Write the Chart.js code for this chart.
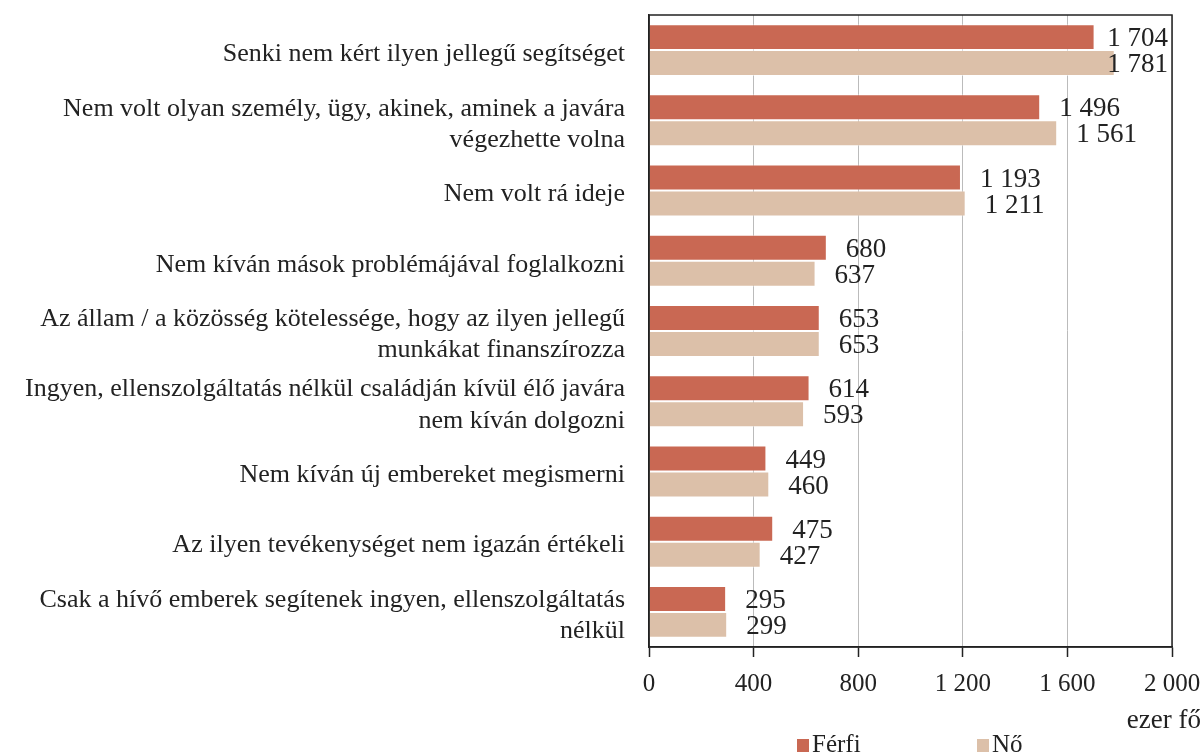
<!DOCTYPE html>
<html>
<head>
<meta charset="utf-8">
<script src="https://cdn.jsdelivr.net/npm/chart.js@4/dist/chart.umd.min.js"></script>
<style>
  html, body { margin: 0; padding: 0; background: #fff; }
  #wrap { width: 1204px; height: 755px; position: relative; }
</style>
</head>
<body>
<div id="wrap"><canvas id="chart"></canvas></div>
<script>
// Data
const categories = [
  'Senki nem kért ilyen jellegű segítséget',
  ['Nem volt olyan személy, ügy, akinek, aminek a javára', 'végezhette volna'],
  'Nem volt rá ideje',
  'Nem kíván mások problémájával foglalkozni',
  ['Az állam / a közösség kötelessége, hogy az ilyen jellegű', 'munkákat finanszírozza'],
  ['Ingyen, ellenszolgáltatás nélkül családján kívül élő javára', 'nem kíván dolgozni'],
  'Nem kíván új embereket megismerni',
  'Az ilyen tevékenységet nem igazán értékeli',
  ['Csak a hívő emberek segítenek ingyen, ellenszolgáltatás', 'nélkül']
];
const ferfi = [1704, 1496, 1193, 680, 653, 614, 449, 475, 295];
const no = [1781, 1561, 1211, 637, 653, 593, 460, 427, 299];
const xTicks = [0, 400, 800, 1200, 1600, 2000];
const unitLabel = 'ezer fő';

const FONT = '"Liberation Serif", "DejaVu Serif", serif';
const TEXT = '#222';
const RED = '#c96853';
const BEIGE = '#dcc0a9';

function fmt(v) {
  return String(v).replace(/\B(?=(\d{3})+(?!\d))/g, ' ');
}

// Value labels next to bars, frame around plot, unit text and legend
const extras = {
  id: 'extras',
  afterDatasetsDraw(chart) {
    const ctx = chart.ctx;
    const area = chart.chartArea;
    ctx.save();
    ctx.font = '27px ' + FONT;
    ctx.fillStyle = TEXT;
    ctx.textAlign = 'left';
    ctx.textBaseline = 'middle';
    chart.data.datasets.forEach((ds, i) => {
      chart.getDatasetMeta(i).data.forEach((bar, j) => {
        const txt = fmt(ds.data[j]);
        const w = ctx.measureText(txt).width;
        let x = bar.x + 19;
        if (x + w > area.right - 4) x = area.right - 4 - w;
        ctx.fillText(txt, x, bar.y + 2);
      });
    });
    ctx.restore();
  },
  afterDraw(chart) {
    const ctx = chart.ctx;
    const area = chart.chartArea;
    ctx.save();
    ctx.strokeStyle = '#222';
    ctx.lineWidth = 1.5;
    ctx.strokeRect(area.left, area.top, area.right - area.left, area.bottom - area.top);

    ctx.font = '27px ' + FONT;
    ctx.fillStyle = TEXT;
    ctx.textAlign = 'right';
    ctx.textBaseline = 'middle';
    ctx.fillText(unitLabel, 1201, 721);

    // legend
    const items = [[chart.data.datasets[0], 797], [chart.data.datasets[1], 977]];
    ctx.textAlign = 'left';
    ctx.font = '25px ' + FONT;
    items.forEach(([ds, x]) => {
      ctx.fillStyle = ds.backgroundColor;
      ctx.fillRect(x, 739, 12, 13);
      ctx.fillStyle = TEXT;
      ctx.fillText(ds.label, x + 15, 745);
    });
    ctx.restore();
  }
};

new Chart(document.getElementById('chart'), {
  type: 'bar',
  data: {
    labels: categories,
    datasets: [
      { label: 'Férfi', data: ferfi, backgroundColor: RED, borderColor: 'rgba(255,255,255,0.5)', borderWidth: 1, categoryPercentage: 0.74, barPercentage: 1 },
      { label: 'Nő', data: no, backgroundColor: BEIGE, borderColor: 'rgba(255,255,255,0.5)', borderWidth: 1, categoryPercentage: 0.74, barPercentage: 1 }
    ]
  },
  options: {
    indexAxis: 'y',
    responsive: true,
    maintainAspectRatio: false,
    animation: false,
    layout: { padding: { top: 15, right: 32, bottom: 0, left: 0 } },
    plugins: {
      legend: { display: false },
      tooltip: { enabled: false },
      title: { display: false }
    },
    scales: {
      x: {
        min: 0,
        max: 2000,
        afterBuildTicks: (scale) => { scale.ticks = xTicks.map(v => ({ value: v })); },
        afterFit: (scale) => {
          scale.height = 108;
          scale.paddingLeft = 0;
          scale.paddingRight = 0;
        },
        grid: { color: '#bbb', lineWidth: 1, drawTicks: true, tickLength: 10, tickColor: '#222', tickWidth: 1.5 },
        border: { display: true, color: '#222', width: 1.5 },
        ticks: {
          color: TEXT,
          font: { family: FONT, size: 25 },
          padding: 12,
          maxRotation: 0,
          callback: (v) => fmt(v)
        }
      },
      y: {
        afterFit: (scale) => {
          scale.width = 649;
          scale.paddingTop = 0;
          scale.paddingBottom = 0;
        },
        grid: { display: false },
        border: { display: true, color: '#222', width: 1.5 },
        ticks: {
          color: TEXT,
          font: { family: FONT, size: 26, lineHeight: 1.2 },
          padding: 16,
          labelOffset: 4,
          crossAlign: 'near'
        }
      }
    }
  },
  plugins: [extras]
});
</script>
</body>
</html>
